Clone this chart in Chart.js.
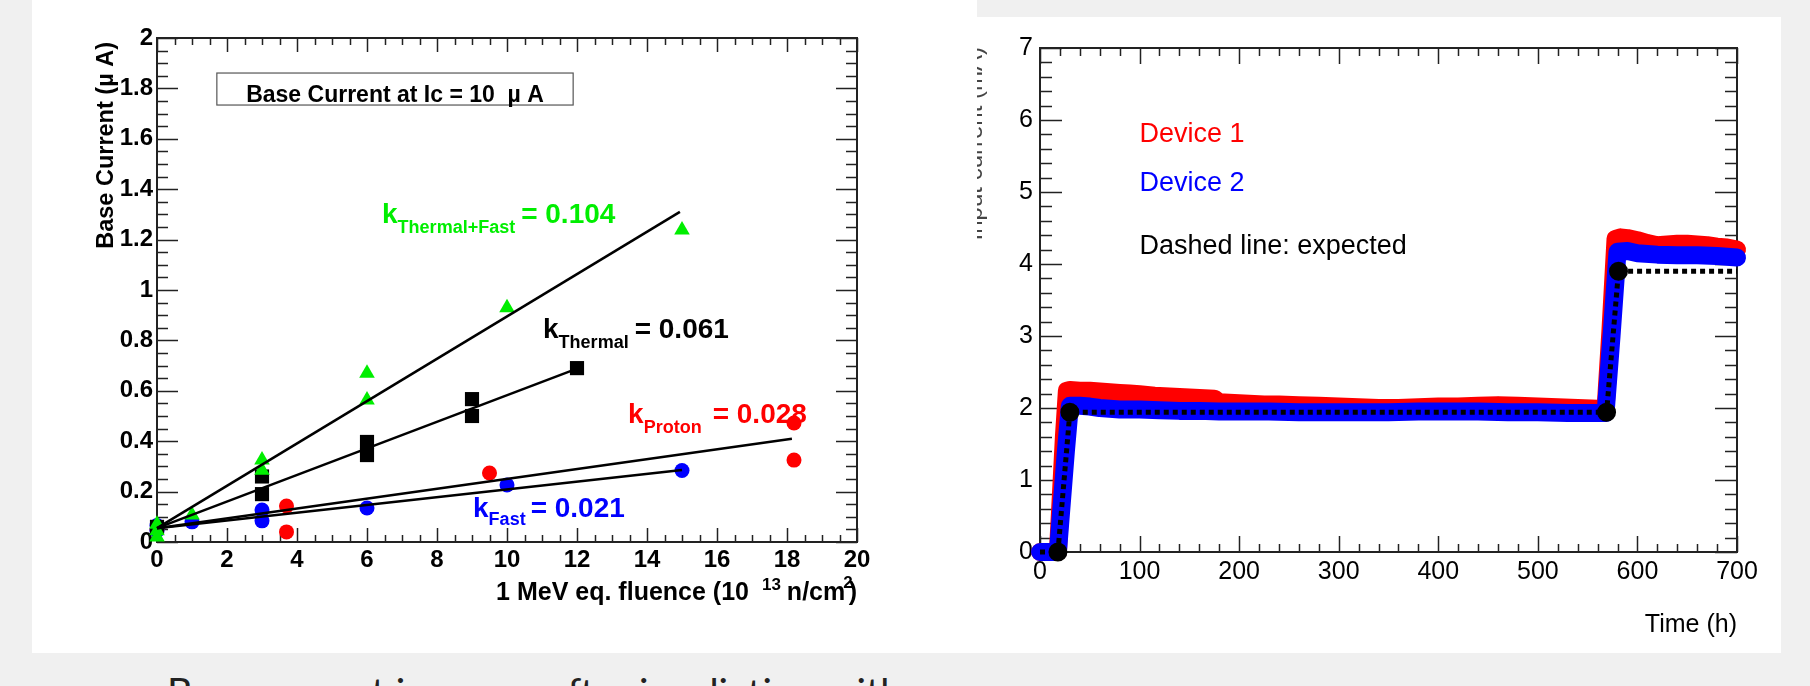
<!DOCTYPE html>
<html>
<head>
<meta charset="utf-8">
<style>
  body { margin: 0; width: 1810px; height: 686px; background: #f0f0f0; position: relative; overflow: hidden; }
  #leftBox { position: absolute; left: 32px; top: 0; width: 945px; height: 653px; background: #fff; }
  #rightBox { position: absolute; left: 977px; top: 17px; width: 804px; height: 636px; background: #fff; }
  canvas { display: block; }
  #caption { position: absolute; left: 167px; top: 671px; font-family: Lato, "Open Sans", sans-serif; font-size: 39.5px; line-height: 39.5px; color: #222; white-space: nowrap; }
</style>
</head>
<body>
<div id="leftBox"><canvas id="fluenceChart" width="945" height="653"></canvas></div>
<div id="rightBox"><canvas id="timeChart" width="804" height="636"></canvas></div>
<div id="caption">Base current increase after irradiation with</div>

<script src="https://cdn.jsdelivr.net/npm/chart.js@4.4.1/dist/chart.umd.min.js"></script>
<script>
// ---- left plot: base current vs fluence ----
const fastX = [0, 0, 1, 3, 3, 6, 10, 15];
const fastY = [0.045, 0.065, 0.08, 0.127, 0.084, 0.135, 0.226, 0.284];
const protonX = [0, 3.7, 3.7, 9.5, 18.2, 18.2];
const protonY = [0.05, 0.143, 0.04, 0.274, 0.472, 0.325];
const thermalX = [0, 3, 3, 6, 6, 9, 9, 12];
const thermalY = [0.06, 0.26, 0.19, 0.397, 0.345, 0.567, 0.5, 0.69];
const mixedX = [0, 0, 0, 1, 3, 3, 6, 6, 10, 15];
const mixedY = [0.02, 0.045, 0.07, 0.107, 0.325, 0.285, 0.67, 0.563, 0.93, 1.238];
// fit lines: [x0, y0, x1, y1]
const fitMixed = [0, 0.055, 14.94, 1.31];
const fitThermal = [0, 0.055, 11.85, 0.68];
const fitProton = [0, 0.055, 18.14, 0.41];
const fitFast = [0, 0.055, 15.0, 0.286];

// ---- right plot: current vs time ----
const time1 = [0, 18, 21, 24, 27, 30, 40, 50, 60, 70, 80, 90, 100, 115, 130, 145, 160, 175, 180, 195, 210, 225, 240, 260, 280, 300, 320, 340, 360, 380, 400, 420, 440, 460, 480, 500, 520, 540, 560, 568, 573, 578, 583, 590, 600, 610, 620, 630, 640, 650, 660, 670, 680, 690, 700];
const current1 = [0, 0, 0.8, 1.6, 2.24, 2.25, 2.24, 2.24, 2.23, 2.22, 2.21, 2.2, 2.19, 2.17, 2.16, 2.15, 2.14, 2.13, 2.08, 2.07, 2.06, 2.05, 2.05, 2.04, 2.03, 2.02, 2.01, 2.0, 2.0, 2.01, 2.02, 2.02, 2.03, 2.04, 2.03, 2.02, 2.01, 2.0, 1.99, 1.99, 3.1, 4.35, 4.37, 4.36, 4.33, 4.29, 4.26, 4.27, 4.28, 4.28, 4.27, 4.26, 4.24, 4.23, 4.2];
const time2 = [0, 18, 22, 26, 30, 40, 50, 60, 70, 80, 100, 120, 140, 160, 180, 200, 230, 260, 290, 320, 350, 380, 410, 440, 470, 500, 530, 560, 568, 574, 580, 590, 600, 620, 640, 660, 680, 700];
const current2 = [0, 0, 0.7, 1.4, 2.03, 2.03, 2.02, 2.0, 1.99, 1.98, 1.98, 1.97, 1.96, 1.96, 1.95, 1.95, 1.95, 1.94, 1.94, 1.94, 1.94, 1.95, 1.95, 1.95, 1.94, 1.94, 1.93, 1.93, 1.93, 3.0, 4.17, 4.18, 4.15, 4.13, 4.12, 4.12, 4.11, 4.09];
const timeExpected = [0, 18, 30, 569, 581, 700];
const currentExpected = [0, 0, 1.94, 1.94, 3.9, 3.9];
const expectedMarkers = [0, 7, 7, 7, 7, 0];

const FONT = '"Liberation Sans", Arial, sans-serif';

const pts = (xs, ys) => xs.map((x, i) => ({x: x, y: ys[i]}));
const seg = (f) => [{x: f[0], y: f[1]}, {x: f[2], y: f[3]}];

// draws a run of text pieces: [text, size, dy, gap]
function drawParts(ctx, x, y, parts, align, weight) {
  let w = 0;
  for (const p of parts) {
    ctx.font = weight + ' ' + p[1] + 'px ' + FONT;
    w += (p[3] || 0) + ctx.measureText(p[0]).width;
  }
  let cx = align === 'right' ? x - w : (align === 'center' ? x - w / 2 : x);
  ctx.textAlign = 'left';
  ctx.textBaseline = 'alphabetic';
  for (const p of parts) {
    ctx.font = weight + ' ' + p[1] + 'px ' + FONT;
    cx += p[3] || 0;
    ctx.fillText(p[0], cx, y + (p[2] || 0));
    cx += ctx.measureText(p[0]).width;
  }
}

// ROOT-like frame with inward ticks on all four sides
const frameTicks = {
  id: 'frameTicks',
  beforeDatasetsDraw(chart, args, o) {
    const {ctx, chartArea: a} = chart;
    const xs = chart.scales.x, ys = chart.scales.y;
    ctx.save();
    ctx.strokeStyle = '#222';
    ctx.lineWidth = 1.5;
    ctx.beginPath();
    const nx = Math.round((xs.max - xs.min) / o.xMinor);
    for (let i = 0; i <= nx; i++) {
      const v = xs.min + i * o.xMinor;
      const major = i % o.xSub === 0;
      const len = major ? o.xLen[0] : o.xLen[1];
      const px = Math.round(xs.getPixelForValue(v)) + 0.5;
      ctx.moveTo(px, a.bottom); ctx.lineTo(px, a.bottom - len);
      ctx.moveTo(px, a.top); ctx.lineTo(px, a.top + len);
    }
    const ny = Math.round((ys.max - ys.min) / o.yMinor);
    for (let i = 0; i <= ny; i++) {
      const v = ys.min + i * o.yMinor;
      const major = i % o.ySub === 0;
      const len = major ? o.yLen[0] : o.yLen[1];
      const py = Math.round(ys.getPixelForValue(v)) + 0.5;
      ctx.moveTo(a.left, py); ctx.lineTo(a.left + len, py);
      ctx.moveTo(a.right, py); ctx.lineTo(a.right - len, py);
    }
    ctx.stroke();
    ctx.lineWidth = 2;
    ctx.strokeRect(a.left, a.top, a.width, a.height);
    ctx.restore();
  }
};

const textLayer = {
  id: 'textLayer',
  afterDatasetsDraw(chart, args, o) {
    const {ctx} = chart;
    const xs = chart.scales.x, ys = chart.scales.y;
    ctx.save();
    for (const b of (o.boxes || [])) {
      const x0 = xs.getPixelForValue(b.x0), x1 = xs.getPixelForValue(b.x1);
      const y0 = ys.getPixelForValue(b.y0), y1 = ys.getPixelForValue(b.y1);
      ctx.fillStyle = '#fff';
      ctx.fillRect(x0, y0, x1 - x0, y1 - y0);
      ctx.strokeStyle = '#555';
      ctx.lineWidth = 1.2;
      ctx.strokeRect(x0, y0, x1 - x0, y1 - y0);
    }
    for (const t of (o.items || [])) {
      ctx.fillStyle = t.color;
      drawParts(ctx, xs.getPixelForValue(t.x), ys.getPixelForValue(t.y), t.parts, t.align || 'left', t.weight);
    }
    for (const t of (o.axisTitles || [])) {
      ctx.fillStyle = t.color || '#000';
      ctx.save();
      if (t.rotate) {
        ctx.translate(t.px, t.py);
        ctx.rotate(-Math.PI / 2);
        drawParts(ctx, 0, 0, t.parts, 'right', t.weight);
      } else {
        drawParts(ctx, t.px, t.py, t.parts, 'right', t.weight);
      }
      ctx.restore();
    }
    ctx.restore();
  }
};

Chart.defaults.font.family = FONT;
Chart.defaults.color = '#000';

const markerSet = (label, xs, ys, color, style, r) => ({
  label: label, data: pts(xs, ys), backgroundColor: color, borderColor: color,
  pointStyle: style, pointRadius: r, borderWidth: 0, showLine: false, clip: false
});
const fitLine = (f) => ({
  data: seg(f), showLine: true, borderColor: '#000', borderWidth: 2.5, pointRadius: 0, clip: false
});

new Chart('fluenceChart', {
  type: 'scatter',
  data: {
    datasets: [
      fitLine(fitMixed), fitLine(fitThermal), fitLine(fitProton), fitLine(fitFast),
      markerSet('Thermal+Fast', mixedX, mixedY, '#00ee00', 'triangle', 9),
      markerSet('Thermal', thermalX, thermalY, '#000', 'rect', 10),
      markerSet('Fast', fastX, fastY, '#0000ff', 'circle', 7.5),
      markerSet('Proton', protonX, protonY, '#ff0000', 'circle', 7.5)
    ]
  },
  options: {
    responsive: false, animation: false, devicePixelRatio: 1,
    layout: {padding: {top: 38, right: 120, left: 0, bottom: 0}},
    scales: {
      x: {
        type: 'linear', min: 0, max: 20,
        afterFit: (s) => { s.height = 111; },
        grid: {display: false, drawTicks: false}, border: {display: false},
        ticks: {stepSize: 2, autoSkip: false, maxRotation: 0, padding: 4,
          font: {size: 24, weight: 'bold'}, callback: (v) => String(v)}
      },
      y: {
        type: 'linear', min: 0, max: 2,
        afterFit: (s) => { s.width = 125; },
        grid: {display: false, drawTicks: false}, border: {display: false},
        ticks: {stepSize: 0.2, autoSkip: false, padding: 4,
          font: {size: 24, weight: 'bold'}, callback: (v) => String(Math.round(v * 10) / 10)}
      }
    },
    plugins: {
      legend: {display: false}, tooltip: {enabled: false},
      frameTicks: {xMinor: 0.5, xSub: 4, xLen: [14, 7], yMinor: 0.05, ySub: 4, yLen: [21, 11]},
      textLayer: {
        boxes: [{x0: 1.71, x1: 11.89, y0: 1.861, y1: 1.734}],
        items: [
          {x: 6.8, y: 1.748, color: '#000', weight: 'bold', align: 'center',
            parts: [['Base Current at Ic = 10  \u00b5 A', 23]]},
          {x: 6.43, y: 1.266, color: '#00ee00', weight: 'bold',
            parts: [['k', 28], ['Thermal+Fast', 18, 10], ['= 0.104', 28, 0, 6]]},
          {x: 11.03, y: 0.81, color: '#000', weight: 'bold',
            parts: [['k', 28], ['Thermal', 18, 10], ['= 0.061', 28, 0, 6]]},
          {x: 13.46, y: 0.472, color: '#ff0000', weight: 'bold',
            parts: [['k', 28], ['Proton', 18, 10], ['= 0.028', 28, 0, 11]]},
          {x: 9.03, y: 0.099, color: '#0000ff', weight: 'bold',
            parts: [['k', 28], ['Fast', 18, 8], ['= 0.021', 28, 0, 5]]}
        ],
        axisTitles: [
          {px: 825, py: 600, weight: 'bold',
            parts: [['1 MeV eq. fluence (10', 25], ['13', 17, -10, 13], ['n/cm', 25, 0, 6], ['2', 17, -12, -2], [')', 25, 0, -4]]},
          {px: 81, py: 42, rotate: true, weight: 'bold', parts: [['Base Current (\u00b5 A)', 23.5]]}
        ]
      }
    }
  },
  plugins: [frameTicks, textLayer]
});

new Chart('timeChart', {
  type: 'scatter',
  data: {
    datasets: [
      {label: 'expected', data: pts(timeExpected, currentExpected), showLine: true,
        borderColor: '#000', backgroundColor: '#000', borderWidth: 5, borderDash: [5, 4],
        pointRadius: expectedMarkers, order: 0, clip: false},
      {label: 'Device 2', data: pts(time2, current2), showLine: true,
        borderColor: '#0000ff', borderWidth: 18, borderCapStyle: 'round', borderJoinStyle: 'round',
        pointRadius: 0, order: 1, clip: false},
      {label: 'Device 1', data: pts(time1, current1), showLine: true,
        borderColor: '#ff0000', borderWidth: 18, borderCapStyle: 'round', borderJoinStyle: 'round',
        pointRadius: 0, order: 2, clip: false}
    ]
  },
  options: {
    responsive: false, animation: false, devicePixelRatio: 1,
    layout: {padding: {top: 31, right: 44, left: 0, bottom: 0}},
    scales: {
      x: {
        type: 'linear', min: 0, max: 700,
        afterFit: (s) => { s.height = 101; },
        grid: {display: false, drawTicks: false}, border: {display: false},
        ticks: {stepSize: 100, autoSkip: false, maxRotation: 0, padding: 5,
          font: {size: 25}, callback: (v) => String(v)}
      },
      y: {
        type: 'linear', min: 0, max: 7,
        afterFit: (s) => { s.width = 63; },
        grid: {display: false, drawTicks: false}, border: {display: false},
        ticks: {stepSize: 1, autoSkip: false, padding: 7,
          font: {size: 25}, callback: (v) => String(v)}
      }
    },
    plugins: {
      legend: {display: false}, tooltip: {enabled: false},
      frameTicks: {xMinor: 20, xSub: 5, xLen: [16, 8], yMinor: 0.2, ySub: 5, yLen: [22, 12]},
      textLayer: {
        items: [
          {x: 100, y: 5.69, color: '#ff0000', weight: 'normal', parts: [['Device 1', 27]]},
          {x: 100, y: 5.01, color: '#0000ff', weight: 'normal', parts: [['Device 2', 27]]},
          {x: 100, y: 4.14, color: '#000', weight: 'normal', parts: [['Dashed line: expected', 27]]}
        ],
        axisTitles: [
          {px: 760, py: 615, weight: 'normal', parts: [['Time (h)', 25]]},
          {px: 5, py: 30, rotate: true, weight: 'normal', color: '#444', parts: [['Input current (mA)', 24]]}
        ]
      }
    }
  },
  plugins: [frameTicks, textLayer]
});
</script>
</body>
</html>
